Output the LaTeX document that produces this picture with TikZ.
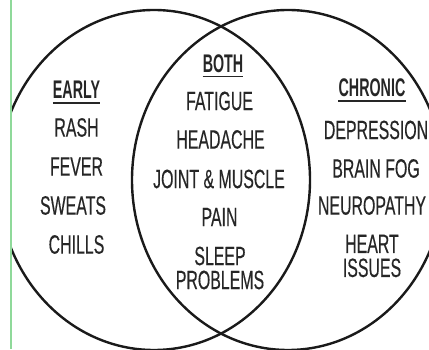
\documentclass[tikz,border=0pt]{standalone}
\usepackage{fontspec}
\newfontfamily\itemfont{Liberation Sans}[FakeStretch=0.6, FakeBold=0.3]
\newfontfamily\headfont{Liberation Sans}[FakeStretch=0.56, UprightFont=*-Bold]
\definecolor{txt}{HTML}{262626}
\definecolor{lineblk}{HTML}{1A1A1A}
\definecolor{greenbar}{HTML}{8FD99A}
\begin{document}
\begin{tikzpicture}[x=1pt,y=-1pt,
  item/.style={inner sep=0pt, text=txt, font=\itemfont\fontsize{26.5}{24}\selectfont, align=center},
  head/.style={inner sep=0pt, text=txt, font=\headfont\fontsize{25.5}{24}\selectfont},
  venn/.style={draw=lineblk, line width=2.4pt},
  uline/.style={draw=txt, line width=1.8pt}]
\useasboundingbox[fill=white] (0,0) rectangle (429,350);
\begin{scope}
\clip (12,0) rectangle (429,350);
\draw[venn] (154,180) ellipse [x radius=156, y radius=170];
\draw[venn] (288,180) ellipse [x radius=156, y radius=170];
\end{scope}
\fill[greenbar] (10.2,0) rectangle (12,349);
% left
\node[head] (early) at (76.5,89.7) {EARLY};
\node[item] (rash) at (76.5,127.5) {RASH};
\node[item] (fever) at (76.5,166.5) {FEVER};
\node[item] (sweats) at (73,205.5) {SWEATS};
\node[item] (chills) at (76.5,244.5) {CHILLS};
% middle
\node[head] (both) at (223,63.3) {BOTH};
\node[item] (fatigue) at (219.5,101) {FATIGUE};
\node[item] (headache) at (220.5,139.5) {HEADACHE};
\node[item] (joint) at (219,179) {JOINT \& MUSCLE};
\node[item] (pain) at (219.5,217) {PAIN};
\node[item] (sleep) at (220,268) {SLEEP\\PROBLEMS};
% right
\node[head] (chronic) at (372,88) {CHRONIC};
\node[item] (depression) at (376,130) {DEPRESSION};
\node[item] (brainfog) at (376,168.5) {BRAIN FOG};
\node[item] (neuro) at (372,205.5) {NEUROPATHY};
\node[item] (heart) at (372,256) {HEART\\ISSUES};
% underlines
\draw[uline] ([yshift=-4pt]early.south west) -- ([yshift=-4pt]early.south east);
\draw[uline] ([yshift=-4pt]both.south west) -- ([yshift=-4pt]both.south east);
\draw[uline] ([yshift=-4pt]chronic.south west) -- ([yshift=-4pt]chronic.south east);
\end{tikzpicture}
\end{document}
